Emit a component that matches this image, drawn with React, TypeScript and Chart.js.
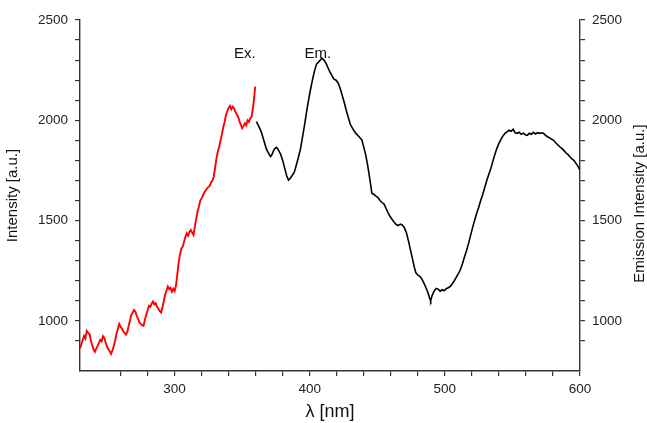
import React, { useEffect, useRef } from "react";
import { Chart, registerables } from "chart.js";

Chart.register(...registerables);

const FONT = '"Liberation Sans", Arial, Helvetica, sans-serif';

// Excitation spectrum (red)
const exNm = [
  230, 231, 232, 233, 234, 235, 236, 237, 238, 239, 240, 241, 242, 243, 244, 245, 246, 247, 248, 249,
  250, 251, 252, 253, 254, 255, 256, 257, 258, 259, 260, 261, 262, 263, 264, 265, 266, 267, 268, 269,
  270, 271, 272, 273, 274, 275, 276, 277, 278, 279, 280, 281, 282, 283, 284, 285, 286, 287, 288, 289,
  290, 291, 292, 293, 294, 295, 296, 297, 298, 299, 300, 301, 302, 303, 304, 305, 306, 307, 308, 309,
  310, 311, 312, 313, 314, 315, 316, 317, 318, 319, 320, 321, 322, 323, 324, 325, 326, 327, 328, 329,
  330, 331, 332, 333, 334, 335, 336, 337, 338, 339, 340, 341, 342, 343, 344, 345, 346, 347, 348, 349,
  350, 351, 352, 353, 354, 355, 356, 357, 358, 359, 359.6,
];
const exIntensity = [
  862, 885, 905, 925, 912, 950, 940, 935, 905, 880, 858, 846, 862, 875, 890, 905, 898, 924, 915, 890,
  872, 858, 848, 835, 852, 875, 902, 935, 960, 985, 970, 962, 948, 940, 932, 945, 975, 1002, 1030, 1042,
  1054, 1046, 1025, 1010, 992, 985, 978, 975, 1005, 1030, 1052, 1075, 1070, 1085, 1096, 1082, 1088, 1070, 1060, 1050,
  1042, 1065, 1098, 1130, 1150, 1171, 1158, 1165, 1145, 1160, 1148, 1175, 1230, 1290, 1330, 1360, 1370, 1395, 1418, 1437,
  1425, 1445, 1453, 1440, 1428, 1470, 1510, 1545, 1570, 1600, 1612, 1625, 1640, 1650, 1660, 1668, 1672, 1690, 1700, 1720,
  1765, 1810, 1845, 1868, 1900, 1930, 1965, 1990, 2026, 2045, 2062, 2072, 2055, 2068, 2060, 2042, 2030, 2018, 1995, 1978,
  1960, 1972, 1985, 1975, 2000, 1992, 2010, 2018, 2060, 2120, 2168,
];

// Emission spectrum (black)
const emNm = [
  360.5, 362, 364, 366, 368, 370, 371, 372, 373, 374, 375.5, 377, 378.5, 380, 381.5, 383, 384.3, 385.5, 387, 388.5,
  390, 391.5, 393, 394.5, 396, 397.5, 399, 400.5, 402, 403.5, 405, 406.5, 408, 409, 410.5, 412, 413.5, 415, 416.5, 418,
  419.5, 421, 422.5, 424, 425.5, 427, 428.5, 430, 431.5, 433, 434.5, 436, 437.5, 438.6, 440, 441.5, 443, 444.5, 446, 447.5,
  449, 450.5, 452, 453.5, 455, 456.5, 458, 459.5, 461, 462.5, 464, 465.5, 467, 468.5, 470, 471.5, 473, 474.5, 476, 477.5,
  478.5, 480, 481.5, 483, 484.5, 486, 487.5, 489, 489.5, 490.5, 492, 493.5, 495, 496.5, 498, 499.5, 501, 502.5, 504, 505.5,
  507, 508.5, 510, 511.5, 513, 514.5, 516, 517.5, 519, 520.5, 522, 523.5, 525, 526.5, 528, 529.5, 531, 532.5, 534, 535.5,
  537, 538.5, 540, 541.5, 543, 544.5, 546, 547.5, 549, 550.5, 552, 553.5, 555, 556.5, 558, 559.5, 561, 562.5, 564, 565.5,
  567, 568.5, 570, 571.5, 573, 574.5, 576, 577.5, 579, 580.5, 582, 583.5, 585, 586.5, 588, 589.5, 591, 592.5, 594, 595.5,
  597, 598.5, 600,
];
const emIntensity = [
  1993, 1975, 1945, 1900, 1855, 1830, 1819, 1828, 1845, 1858, 1865, 1850, 1830, 1800, 1760, 1722, 1702, 1710, 1725, 1740,
  1775, 1812, 1852, 1910, 1970, 2035, 2095, 2151, 2200, 2245, 2280, 2290, 2302, 2310, 2300, 2285, 2262, 2240, 2222, 2205,
  2200, 2186, 2160, 2125, 2090, 2050, 2015, 1980, 1962, 1945, 1932, 1922, 1910, 1902, 1865, 1825, 1770, 1705, 1636, 1630,
  1622, 1615, 1600, 1590, 1582, 1560, 1538, 1520, 1505, 1492, 1480, 1475, 1482, 1478, 1465, 1440, 1400, 1355, 1310, 1265,
  1240, 1228, 1222, 1208, 1188, 1165, 1140, 1108, 1100, 1125, 1148, 1162, 1158, 1148, 1155, 1150, 1160, 1165, 1172, 1185,
  1200, 1218, 1235, 1256, 1285, 1318, 1350, 1385, 1425, 1465, 1500, 1535, 1565, 1600, 1630, 1665, 1700, 1730, 1760, 1795,
  1830, 1860, 1885, 1905, 1922, 1935, 1942, 1950, 1945, 1955, 1938, 1935, 1940, 1930, 1936, 1928, 1925, 1935, 1930, 1940,
  1932, 1938, 1935, 1938, 1935, 1925, 1918, 1912, 1905, 1900, 1888, 1878, 1868, 1860, 1850, 1838, 1830, 1818, 1808, 1800,
  1785, 1770, 1752,
];

// Annotations
const annoText = ["Ex.", "Em."];
const annoNm = [352, 406];
const annoValue = [2330, 2330];

const xTitle = "λ [nm]";
const yTitle = "Intensity [a.u.]";
const y2Title = "Emission Intensity [a.u.]";
const xMin = 230;
const xMax = 600;
const yMin = 750;
const yMax = 2500;

const toPoints = (xs: number[], ys: number[]) => xs.map((x, i) => ({ x, y: ys[i] }));

const textPlugin = {
  id: "extraText",
  afterDraw(chart: any) {
    const { ctx, chartArea, scales } = chart;
    ctx.save();
    ctx.fillStyle = "#111";
    ctx.font = `15px ${FONT}`;
    ctx.textAlign = "center";
    ctx.textBaseline = "middle";
    annoText.forEach((t, i) => {
      ctx.fillText(t, scales.x.getPixelForValue(annoNm[i]), scales.y.getPixelForValue(annoValue[i]));
    });
    // right axis title reading bottom-to-top
    const cy = (chartArea.top + chartArea.bottom) / 2 + 8;
    ctx.translate(640, cy);
    ctx.rotate(-Math.PI / 2);
    ctx.fillText(y2Title, 0, 0);
    ctx.restore();
  },
};

export default function App() {
  const ref = useRef<HTMLCanvasElement>(null);
  useEffect(() => {
    if (!ref.current) return;
    const tickFont = { family: FONT, size: 13.5 };
    const grid = {
      drawOnChartArea: false,
      drawTicks: true,
      tickLength: 5,
      color: "#333",
      lineWidth: 1.2,
    };
    const border = { display: true, color: "#333", width: 1.4 };
    const chart = new Chart(ref.current, {
      type: "line",
      data: {
        datasets: [
          {
            data: toPoints(exNm, exIntensity),
            borderColor: "#ff0000",
            borderWidth: 1.9,
            pointRadius: 0,
            tension: 0,
            yAxisID: "y",
          },
          {
            data: toPoints(emNm, emIntensity),
            borderColor: "#000000",
            borderWidth: 1.6,
            pointRadius: 0,
            tension: 0,
            yAxisID: "y",
          },
        ],
      },
      options: {
        animation: false,
        responsive: false,
        layout: { padding: { top: 20, left: 0, right: 0, bottom: 0 } },
        plugins: { legend: { display: false }, tooltip: { enabled: false } },
        scales: {
          x: {
            type: "linear",
            min: xMin,
            max: xMax,
            afterBuildTicks: (s: any) => {
              s.ticks = s.ticks.filter((t: any) => t.value % 20 === 0);
            },
            afterFit: (s: any) => {
              s.height = 52;
            },
            ticks: {
              stepSize: 20,
              autoSkip: false,
              maxRotation: 0,
              padding: 5,
              color: "#222",
              font: tickFont,
              callback: (v: any) => (Number(v) % 100 === 0 ? String(v) : ""),
            },
            grid,
            border,
            title: {
              display: true,
              text: xTitle,
              color: "#111",
              font: { family: FONT, size: 18 },
              padding: { top: 0, bottom: 0 },
            },
          },
          y: {
            type: "linear",
            position: "left",
            min: yMin,
            max: yMax,
            afterBuildTicks: (s: any) => {
              s.ticks = s.ticks.filter((t: any) => t.value % 100 === 0);
            },
            afterFit: (s: any) => {
              s.width = 80;
            },
            ticks: {
              stepSize: 100,
              autoSkip: false,
              padding: 7,
              color: "#222",
              font: tickFont,
              callback: (v: any) => (Number(v) % 500 === 0 ? String(v) : ""),
            },
            grid,
            border,
            title: {
              display: true,
              text: yTitle,
              color: "#111",
              font: { family: FONT, size: 15 },
              padding: { top: 4, bottom: 0 },
            },
          },
          y2: {
            type: "linear",
            position: "right",
            min: yMin,
            max: yMax,
            afterBuildTicks: (s: any) => {
              s.ticks = s.ticks.filter((t: any) => t.value % 100 === 0);
            },
            afterFit: (s: any) => {
              s.width = 67;
            },
            ticks: {
              stepSize: 100,
              autoSkip: false,
              padding: 7,
              color: "#222",
              font: tickFont,
              callback: (v: any) => (Number(v) % 500 === 0 ? String(v) : ""),
            },
            grid,
            border,
          },
        },
      },
      plugins: [textPlugin],
    } as any);
    return () => chart.destroy();
  }, []);
  return (
    <div style={{ position: "absolute", left: 0, top: 0, width: 647, height: 423, background: "#fff" }}>
      <canvas ref={ref} width={647} height={423} />
    </div>
  );
}
